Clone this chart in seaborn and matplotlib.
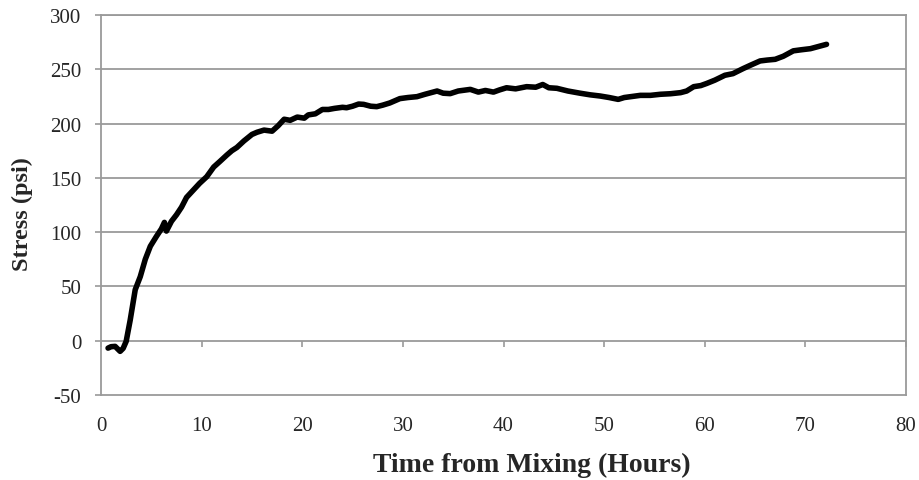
import matplotlib

matplotlib.use("Agg")
import matplotlib.pyplot as plt
import pandas as pd
import seaborn as sns
from matplotlib.ticker import NullFormatter


HOURS = [
    0.7, 1.0, 1.4, 1.9, 2.2, 2.5, 2.9, 3.4, 3.9, 4.4,
    4.9, 5.5, 6.0, 6.3, 6.5, 7.0, 7.5, 8.0, 8.5, 9.2,
    9.8, 10.5, 11.2, 11.8, 12.5, 13.0, 13.5, 14.2, 15.0, 15.5,
    16.2, 17.0, 17.6, 18.2, 18.8, 19.5, 20.2, 20.6, 21.3, 22.0,
    22.6, 23.2, 24.0, 24.4, 25.0, 25.6, 26.1, 26.8, 27.4, 28.0,
    28.7, 29.7, 30.5, 31.4, 32.2, 33.4, 34.0, 34.7, 35.5, 36.7,
    37.5, 38.2, 39.0, 39.6, 40.3, 41.2, 42.3, 43.2, 43.9, 44.5,
    45.3, 46.4, 47.6, 48.6, 49.6, 50.5, 51.4, 52.0, 52.8, 53.6,
    54.6, 55.6, 56.6, 57.6, 58.2, 58.9, 59.6, 60.2, 61.0, 62.0,
    62.8, 63.8, 64.6, 65.5, 66.2, 67.0, 67.8, 68.8, 69.6, 70.5,
    71.3, 72.1,
]

STRESS_PSI = [
    -6.8, -5.5, -5.2, -9.8, -7.0, -0.6, 19, 47, 59, 75,
    87, 96, 103, 109, 101, 110, 116, 123, 132, 139,
    145, 151, 160, 165, 171, 175, 178, 184, 190, 192,
    194, 193, 198, 204, 203, 206, 205, 208, 209, 213,
    213, 214, 215, 214.6, 216, 218, 217.7, 216, 215.6, 217,
    219, 223, 224, 224.8, 227, 230, 228, 227.6, 230, 231.5,
    229, 230.5, 229, 231, 233, 232, 234, 233.5, 236, 233,
    232.5, 230, 228, 226.5, 225.4, 224, 222.3, 224, 225, 226,
    226, 227, 227.5, 228.5, 230, 234, 235, 237, 240, 244.5,
    246, 250.6, 254, 257.7, 258.5, 259.2, 262, 267, 268, 269,
    271, 273,
]

X_TICKS = list(range(0, 81, 10))
Y_TICKS = list(range(-50, 301, 50))

GRID_COLOR = "#9a9a9a"

sns.set_style("white")
plt.rcParams["font.family"] = ["Liberation Serif", "DejaVu Serif"]
plt.rcParams["axes.unicode_minus"] = False

df = pd.DataFrame({"hours": HOURS, "stress": STRESS_PSI})

fig = plt.figure(figsize=(9.2, 4.81), dpi=100)
ax = fig.add_axes([0.1098, 0.1767, 0.875, 0.79])

for y in Y_TICKS[1:]:
    ax.axhline(y, color=GRID_COLOR, linewidth=1.3, zorder=1)

sns.lineplot(data=df, x="hours", y="stress", color="black", linewidth=4,
             ax=ax, zorder=3)

ax.set_xlim(0, 80)
ax.set_ylim(-50, 300)
ax.set_xticks(X_TICKS)
ax.set_yticks(Y_TICKS)
ax.tick_params(axis="x", length=0, labelsize=15, pad=15)
ax.tick_params(axis="y", length=4.3, width=1.2, color=GRID_COLOR,
               labelsize=15, left=True, direction="out", pad=10)

for spine in ax.spines.values():
    spine.set_color(GRID_COLOR)
    spine.set_linewidth(1.3)

# tick marks sit on the zero line, as in the original
zero_axis = ax.secondary_xaxis(50 / 350)
zero_axis.set_xticks(X_TICKS)
zero_axis.xaxis.set_major_formatter(NullFormatter())
zero_axis.xaxis.set_ticks_position("bottom")
zero_axis.tick_params(axis="x", length=4.3, width=1.2, color=GRID_COLOR,
                      direction="out")
zero_axis.spines["bottom"].set_visible(False)

ax.set_xlabel("Time from Mixing (Hours)", fontsize=20, fontweight="bold")
ax.xaxis.set_label_coords(0.535, -0.15)
ax.set_ylabel("Stress (psi)", fontsize=17.5, fontweight="bold")
ax.yaxis.set_label_coords(-0.084, 0.479)

fig.savefig("out.png", dpi=100)
plt.close(fig)
